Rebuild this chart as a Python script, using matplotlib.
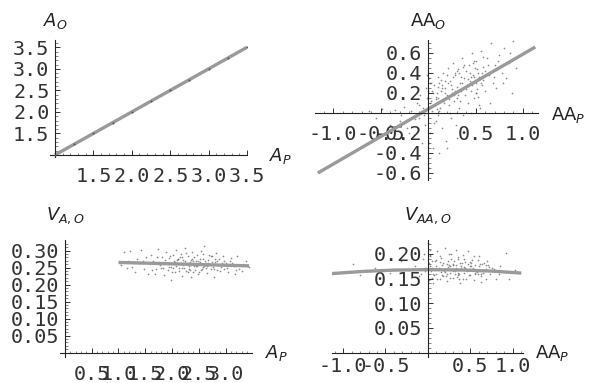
import matplotlib
matplotlib.use("Agg")
import matplotlib.pyplot as plt
from matplotlib.ticker import FixedLocator, FormatStrFormatter

# ---------------- data ----------------
# Panel 1: A_O vs A_P
p1_x = [1.00, 1.25, 1.50, 1.75, 2.00, 2.25, 2.50, 2.75, 3.00, 3.25, 3.50]
p1_y = [1.00, 1.25, 1.50, 1.75, 2.00, 2.25, 2.50, 2.75, 3.00, 3.25, 3.50]
p1_line_x = [1.0, 3.5]
p1_line_y = [1.0, 3.5]

# Panel 2: AA_O vs AA_P
p2_x = [-0.62, -0.55, -0.48, -0.40, -0.35, -0.30, -0.25, -0.22, -0.18, -0.15,
        -0.12, -0.10, -0.08, -0.06, -0.05, -0.03, -0.02, 0.00, 0.01, 0.02,
        0.03, 0.04, 0.05, 0.06, 0.07, 0.08, 0.09, 0.10, 0.11, 0.12,
        0.13, 0.14, 0.15, 0.16, 0.17, 0.18, 0.19, 0.20, 0.21, 0.22,
        0.23, 0.24, 0.25, 0.26, 0.27, 0.28, 0.29, 0.30, 0.31, 0.32,
        0.33, 0.34, 0.35, 0.36, 0.37, 0.38, 0.39, 0.40, 0.41, 0.42,
        0.43, 0.44, 0.45, 0.46, 0.47, 0.48, 0.49, 0.50, 0.51, 0.52,
        0.53, 0.54, 0.55, 0.56, 0.57, 0.58, 0.60, 0.62, 0.64, 0.66,
        0.68, 0.70, 0.72, 0.75, 0.78, 0.80, 0.82, 0.85, 0.88, 0.90,
        0.93, 0.12, 0.20, 0.30, 0.45, 0.55, 0.65, -0.01, 0.01, 0.02,
        0.05, 0.08, 0.15, 0.25, 0.35, 0.18, 0.28, 0.38, 0.48, 0.58,
        0.02, 0.04, 0.06, 0.08, 0.10, 0.12, 0.14, 0.16, 0.18, 0.20,
        0.22, 0.24, 0.26, 0.28, 0.30, 0.32, 0.34, 0.36, 0.38, 0.40,
        0.42, 0.44, 0.46, 0.48, 0.50, 0.52, 0.54, 0.56, 0.58, 0.60,
        0.03, 0.09, 0.15, 0.21, 0.27, 0.33, 0.39, 0.45, 0.51, 0.57,
        -0.04, -0.09, -0.14, -0.20, -0.28, -0.01, 0.00, 0.01, 0.63, 0.69,
        0.74, 0.79, 0.86, 0.11, 0.23, 0.37, 0.47, 0.53]
p2_y = [0.02, -0.05, 0.04, -0.12, 0.03, -0.08, 0.06, -0.15, 0.02, -0.22,
        0.10, -0.05, 0.18, -0.30, 0.05, -0.12, 0.25, -0.45, 0.35, -0.20,
        0.12, 0.02, -0.35, 0.28, 0.08, -0.08, 0.20, 0.15, -0.02, 0.30,
        0.05, 0.22, -0.15, 0.40, 0.10, 0.25, -0.28, 0.18, 0.45, 0.08,
        0.32, -0.05, 0.20, 0.50, 0.12, 0.38, -0.12, 0.26, 0.15, 0.44,
        0.05, 0.30, 0.22, 0.55, -0.02, 0.35, 0.18, 0.42, 0.28, 0.10,
        0.48, 0.32, 0.22, 0.60, 0.38, 0.15, 0.45, 0.30, 0.52, 0.24,
        0.40, 0.08, 0.35, 0.62, 0.28, 0.46, 0.22, 0.55, 0.38, 0.70,
        0.30, 0.48, 0.25, 0.58, 0.40, 0.65, 0.35, 0.50, 0.20, 0.72,
        0.45, -0.40, -0.35, -0.25, 0.00, 0.05, 0.10, 0.38, -0.55, 0.30,
        0.20, 0.14, 0.28, 0.24, 0.36, 0.32, 0.40, 0.26, 0.36, 0.33,
        0.10, 0.22, -0.10, 0.16, 0.26, 0.02, 0.33, 0.12, 0.20, 0.38,
        0.14, 0.28, 0.36, 0.22, 0.42, 0.18, 0.12, 0.30, 0.48, 0.24,
        0.34, 0.40, 0.28, 0.52, 0.20, 0.44, 0.36, 0.30, 0.56, 0.42,
        0.30, 0.04, 0.25, 0.30, 0.18, 0.40, 0.26, 0.36, 0.20, 0.40,
        -0.02, 0.08, -0.06, -0.20, -0.02, 0.15, 0.22, -0.30, 0.48, 0.36,
        0.52, 0.30, 0.60, 0.36, 0.00, 0.46, 0.50, 0.16]
p2_line_x = [-1.16, 1.13]
p2_line_y = [-0.60, 0.66]

# Panel 3: V_A,O vs A_P
p3_x = [1.02, 1.10, 1.15, 1.22, 1.30, 1.35, 1.42, 1.48, 1.55, 1.60,
        1.65, 1.70, 1.74, 1.78, 1.82, 1.85, 1.88, 1.92, 1.95, 1.98,
        2.02, 2.05, 2.08, 2.10, 2.13, 2.16, 2.18, 2.21, 2.24, 2.26,
        2.29, 2.32, 2.35, 2.38, 2.40, 2.43, 2.46, 2.49, 2.52, 2.55,
        2.58, 2.60, 2.63, 2.66, 2.69, 2.72, 2.75, 2.78, 2.82, 2.86,
        2.90, 2.95, 3.00, 3.05, 3.10, 3.15, 3.22, 3.30, 3.38, 3.44,
        1.58, 1.72, 1.90, 2.00, 2.12, 2.20, 2.34, 2.44, 2.56, 2.68,
        2.80, 2.92, 3.08, 3.25, 1.45, 1.80, 2.06, 2.28, 2.50, 2.62,
        2.74, 2.98, 3.18, 1.95, 2.38, 2.58, 2.84, 1.68, 2.15, 2.47,
        1.05, 1.18, 1.26, 1.38, 1.52, 1.62, 1.76, 1.84, 1.87, 1.93,
        1.97, 2.01, 2.04, 2.07, 2.11, 2.14, 2.17, 2.19, 2.23, 2.25,
        2.27, 2.31, 2.33, 2.36, 2.39, 2.42, 2.45, 2.48, 2.51, 2.54,
        2.57, 2.61, 2.64, 2.67, 2.70, 2.73, 2.77, 2.81, 2.85, 2.88,
        2.93, 2.97, 3.02, 3.12, 3.20, 3.35, 1.99, 2.09, 2.22, 2.30,
        2.41, 2.53, 2.65, 2.79, 2.03, 2.18, 2.36, 2.60]
p3_y = [0.262, 0.296, 0.250, 0.298, 0.238, 0.276, 0.301, 0.245, 0.232, 0.288,
        0.270, 0.247, 0.305, 0.258, 0.282, 0.228, 0.296, 0.243, 0.278, 0.212,
        0.286, 0.236, 0.302, 0.262, 0.248, 0.291, 0.225, 0.272, 0.307, 0.240,
        0.284, 0.255, 0.221, 0.295, 0.268, 0.242, 0.288, 0.230, 0.276, 0.300,
        0.251, 0.312, 0.262, 0.234, 0.288, 0.247, 0.266, 0.222, 0.292, 0.258,
        0.240, 0.284, 0.262, 0.236, 0.278, 0.254, 0.283, 0.240, 0.268, 0.252,
        0.260, 0.281, 0.262, 0.236, 0.275, 0.258, 0.244, 0.268, 0.247, 0.262,
        0.276, 0.253, 0.268, 0.246, 0.270, 0.250, 0.265, 0.262, 0.238, 0.270,
        0.284, 0.246, 0.230, 0.252, 0.274, 0.290, 0.268, 0.232, 0.281, 0.255,
        0.258, 0.270, 0.252, 0.262, 0.280, 0.244, 0.266, 0.250, 0.272, 0.260,
        0.285, 0.248, 0.268, 0.256, 0.276, 0.240, 0.264, 0.282, 0.250, 0.270,
        0.294, 0.246, 0.266, 0.258, 0.238, 0.280, 0.256, 0.270, 0.262, 0.242,
        0.276, 0.258, 0.248, 0.272, 0.260, 0.284, 0.252, 0.266, 0.242, 0.274,
        0.262, 0.270, 0.250, 0.262, 0.244, 0.258, 0.252, 0.272, 0.262, 0.238,
        0.256, 0.266, 0.256, 0.246, 0.262, 0.250, 0.272, 0.256]
p3_line_x = [1.00, 3.44]
p3_line_y = [0.265, 0.255]

# Panel 4: V_AA,O vs AA_P
p4_x = [-0.88, -0.80, -0.62, -0.45, -0.32, -0.22, -0.15, -0.10, -0.06, -0.03,
        0.00, 0.02, 0.03, 0.05, 0.06, 0.08, 0.09, 0.11, 0.12, 0.14,
        0.15, 0.17, 0.18, 0.20, 0.21, 0.23, 0.24, 0.26, 0.27, 0.29,
        0.30, 0.32, 0.33, 0.35, 0.36, 0.38, 0.39, 0.41, 0.42, 0.44,
        0.45, 0.47, 0.48, 0.50, 0.52, 0.54, 0.56, 0.58, 0.60, 0.62,
        0.64, 0.66, 0.68, 0.70, 0.73, 0.76, 0.80, 0.85, 0.92, 1.02,
        0.04, 0.10, 0.16, 0.22, 0.28, 0.34, 0.40, 0.46, 0.53, 0.59,
        0.01, 0.07, 0.13, 0.19, 0.25, 0.31, 0.37, 0.43, 0.49, 0.57,
        0.65, 0.72, 0.02, 0.14, 0.26, 0.38, 0.51, 0.63, 0.05, 0.33,
        0.03, 0.06, 0.09, 0.12, 0.15, 0.18, 0.21, 0.24, 0.27, 0.30,
        0.33, 0.36, 0.39, 0.42, 0.45, 0.48, 0.51, 0.54, 0.57, 0.60,
        0.63, 0.66, 0.69, 0.02, 0.08, 0.14, 0.20, 0.26, 0.32, 0.38,
        0.44, 0.50, 0.56, 0.62, 0.68, 0.05, 0.11, 0.17, 0.23, 0.29,
        0.35, 0.41, 0.47, 0.53, 0.59, -0.02, -0.05, -0.08, 0.01, 0.78,
        0.84, 0.96, 0.71, 0.25, 0.37, 0.43, 0.55, 0.61]
p4_y = [0.180, 0.158, 0.172, 0.162, 0.185, 0.168, 0.176, 0.156, 0.190, 0.165,
        0.222, 0.150, 0.198, 0.172, 0.140, 0.185, 0.160, 0.205, 0.168, 0.148,
        0.192, 0.178, 0.155, 0.212, 0.170, 0.145, 0.186, 0.162, 0.200, 0.152,
        0.180, 0.166, 0.208, 0.158, 0.190, 0.140, 0.176, 0.198, 0.162, 0.184,
        0.150, 0.205, 0.170, 0.158, 0.188, 0.146, 0.178, 0.164, 0.196, 0.155,
        0.180, 0.168, 0.150, 0.186, 0.160, 0.172, 0.148, 0.176, 0.202, 0.168,
        0.165, 0.175, 0.158, 0.180, 0.170, 0.154, 0.182, 0.165, 0.172, 0.160,
        0.182, 0.158, 0.172, 0.165, 0.178, 0.186, 0.160, 0.170, 0.176, 0.168,
        0.162, 0.174, 0.195, 0.183, 0.152, 0.168, 0.182, 0.142, 0.152, 0.172,
        0.176, 0.160, 0.188, 0.170, 0.164, 0.182, 0.156, 0.174, 0.190, 0.166,
        0.178, 0.162, 0.172, 0.190, 0.168, 0.158, 0.176, 0.196, 0.166, 0.176,
        0.160, 0.182, 0.170, 0.208, 0.168, 0.196, 0.164, 0.176, 0.160, 0.182,
        0.172, 0.184, 0.160, 0.168, 0.178, 0.186, 0.150, 0.170, 0.160, 0.178,
        0.194, 0.150, 0.180, 0.168, 0.188, 0.172, 0.200, 0.160, 0.146, 0.170,
        0.160, 0.150, 0.178, 0.200, 0.148, 0.174, 0.162, 0.180]
p4_line_x = [-1.13, -0.75, -0.40, 0.00, 0.40, 0.75, 1.10]
p4_line_y = [0.160, 0.1645, 0.1670, 0.1680, 0.1672, 0.1650, 0.1610]

# ---------------- style ----------------
W, H = 590, 383
fig = plt.figure(figsize=(W / 100, H / 100), dpi=100)
LINE_COLOR = "#9a9a9a"
PT_COLOR = "#707070"
TICK_FONT = {"family": "DejaVu Sans Mono", "size": 14.5}
plt.rcParams["mathtext.fontset"] = "dejavusans"


def make_axes(px_left, px_right, px_top, px_bottom, xlim, ylim, xorig, yorig,
              xmaj, ymaj, xmin, ymin, xfmt, yfmt, xpad):
    ax = fig.add_axes([px_left / W, 1 - px_bottom / H,
                       (px_right - px_left) / W, (px_bottom - px_top) / H])
    ax.set_xlim(*xlim)
    ax.set_ylim(*ylim)
    ax.patch.set_alpha(0)
    for s in ("top", "right"):
        ax.spines[s].set_visible(False)
    ax.spines["left"].set_position(("data", xorig))
    ax.spines["bottom"].set_position(("data", yorig))
    for s in ("left", "bottom"):
        ax.spines[s].set_linewidth(0.8)
        ax.spines[s].set_color("#222222")
    ax.xaxis.set_major_locator(FixedLocator(xmaj))
    ax.yaxis.set_major_locator(FixedLocator(ymaj))
    ax.xaxis.set_minor_locator(FixedLocator(xmin))
    ax.yaxis.set_minor_locator(FixedLocator(ymin))
    ax.xaxis.set_major_formatter(FormatStrFormatter(xfmt))
    ax.yaxis.set_major_formatter(FormatStrFormatter(yfmt))
    ax.tick_params(which="major", direction="in", length=3.5, width=0.7,
                   color="#333333")
    ax.tick_params(which="minor", direction="in", length=1.8, width=0.5,
                   color="#555555")
    ax.tick_params(axis="x", which="major", pad=xpad)
    ax.tick_params(axis="y", which="major", pad=4)
    for lab in ax.get_xticklabels() + ax.get_yticklabels():
        lab.set_fontfamily(TICK_FONT["family"])
        lab.set_fontsize(TICK_FONT["size"])
        lab.set_color("#333333")
    return ax


def steps(a, b, d):
    out = []
    n = int(round((b - a) / d))
    for i in range(n + 1):
        out.append(round(a + i * d, 6))
    return out


# Panel 1
ax1 = make_axes(50, 247, 40, 157, (0.935, 3.5), (0.953, 3.67), 1.0, 1.0,
                [1.5, 2.0, 2.5, 3.0, 3.5], [1.5, 2.0, 2.5, 3.0, 3.5],
                steps(1.0, 3.5, 0.1), steps(1.0, 3.6, 0.1), "%.1f", "%.1f", 9)
ax1.plot(p1_line_x, p1_line_y, color=LINE_COLOR, lw=2.4, solid_capstyle="butt")
ax1.scatter(p1_x, p1_y, s=2, color="#555555", linewidths=0, zorder=3)

# Panel 2
ax2 = make_axes(315, 538, 40, 180, (-1.19, 1.158), (-0.67, 0.73), 0.0, 0.0,
                [-1.0, -0.5, 0.5, 1.0], [-0.6, -0.4, -0.2, 0.2, 0.4, 0.6],
                steps(-1.1, 1.1, 0.1), steps(-0.65, 0.7, 0.05), "%.1f", "%.1f", 9)
ax2.scatter(p2_x, p2_y, s=1.5, color=PT_COLOR, linewidths=0, alpha=0.8)
ax2.plot(p2_line_x, p2_line_y, color=LINE_COLOR, lw=2.4, solid_capstyle="butt")

# Panel 3
ax3 = make_axes(60, 252, 240, 357, (-0.093, 3.495), (-0.013, 0.331), 0.0, 0.0,
                [0.5, 1.0, 1.5, 2.0, 2.5, 3.0],
                [0.05, 0.10, 0.15, 0.20, 0.25, 0.30],
                steps(0.1, 3.4, 0.1), steps(0.01, 0.32, 0.01), "%.1f", "%.2f", 9)
ax3.scatter(p3_x, p3_y, s=1.5, color=PT_COLOR, linewidths=0, alpha=0.8)
ax3.plot(p3_line_x, p3_line_y, color=LINE_COLOR, lw=2.4, solid_capstyle="butt")

# Panel 4
ax4 = make_axes(332, 523, 240, 357, (-1.13, 1.12), (-0.009, 0.228), 0.0, 0.0,
                [-1.0, -0.5, 0.5, 1.0], [0.05, 0.10, 0.15, 0.20],
                steps(-1.1, 1.1, 0.1), steps(0.01, 0.22, 0.01), "%.1f", "%.2f", 3)
ax4.scatter(p4_x, p4_y, s=1.5, color=PT_COLOR, linewidths=0, alpha=0.8)
ax4.plot(p4_line_x, p4_line_y, color=LINE_COLOR, lw=2.4, solid_capstyle="butt")

# axis labels
LAB = dict(fontsize=13, color="#222222", ha="center", va="center")
fig.text(55 / W, 1 - 21 / H, r"$A_O$", **LAB)
fig.text(280 / W, 1 - 156 / H, r"$A_P$", **LAB)
fig.text(428 / W, 1 - 21 / H, r"$\mathrm{AA}_O$", **LAB)
fig.text(568 / W, 1 - 115 / H, r"$\mathrm{AA}_P$", **LAB)
fig.text(65 / W, 1 - 216 / H, r"$V_{A,O}$", **LAB)
fig.text(276 / W, 1 - 353 / H, r"$A_P$", **LAB)
fig.text(428 / W, 1 - 216 / H, r"$V_{AA,O}$", **LAB)
fig.text(552 / W, 1 - 353 / H, r"$\mathrm{AA}_P$", **LAB)

fig.savefig("out.png", dpi=100, facecolor="white")
